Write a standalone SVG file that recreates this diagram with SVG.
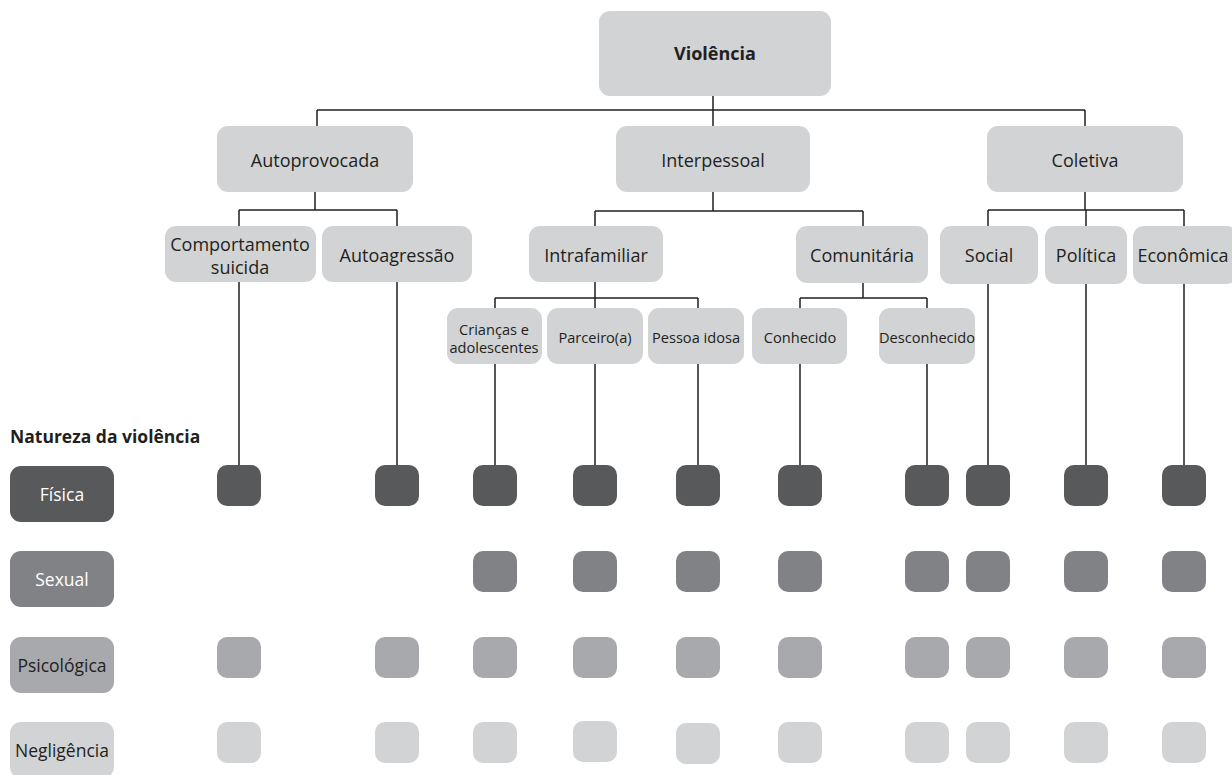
<svg xmlns="http://www.w3.org/2000/svg" width="1232" height="775" viewBox="0 0 1232 775">
<style>
.n{fill:#d1d3d4}
.t{font-family:"Open Sans","Noto Sans",sans-serif;fill:#231f20;text-anchor:middle;dominant-baseline:central}
.l1{font-size:18px}
.l2{font-size:18px}
.l3{font-size:14.6px}
.lg{font-size:17.5px}
.c{fill:none;stroke:#231f20;stroke-width:1.5}
.f{fill:#58595b}.s{fill:#808285}.p{fill:#a7a9ac}.g{fill:#d1d3d4}
</style>
<rect width="1232" height="775" fill="#fff"/>
<g id="connectors" class="c">
<path d="M713 96V110M317 110H1085M317 110V126M713 110V126M1085 110V126"/>
<path d="M315 192V210M239 210H397M239 210V226M397 210V226"/>
<path d="M713 192V211M595 211H863M595 211V226M863 211V226"/>
<path d="M1085 192V210M988 210H1184M988 210V226M1086 210V226M1184 210V226"/>
<path d="M595 282V298M495 298H698M495 298V308M595 298V308M698 298V308"/>
<path d="M863 283V298M800 298H927M800 298V308M927 298V308"/>
<path d="M239 282V465M397 282V465M495 364V465M595 364V465M698 364V465M800 364V465M927 364V465M988 284V465M1086 284V465M1184 284V465"/>
</g>
<g id="violencia"><rect class="n" x="599" y="11" width="232" height="85" rx="11"/><text class="t" x="715" y="53" font-size="18" font-weight="bold">Violência</text></g>
<g id="autoprovocada"><rect class="n" x="217" y="126" width="196" height="66" rx="11"/><text class="t l1" x="315" y="160">Autoprovocada</text></g>
<g id="interpessoal"><rect class="n" x="616" y="126" width="194" height="66" rx="11"/><text class="t l1" x="713" y="160">Interpessoal</text></g>
<g id="coletiva"><rect class="n" x="987" y="126" width="196" height="66" rx="11"/><text class="t l1" x="1085" y="160">Coletiva</text></g>
<g id="comportamento"><rect class="n" x="165" y="226" width="151" height="56" rx="11"/><text class="t l2" x="240" y="244">Comportamento</text><text class="t l2" x="240" y="267">suicida</text></g>
<g id="autoagressao"><rect class="n" x="322" y="226" width="150" height="56" rx="11"/><text class="t l2" x="397" y="255">Autoagressão</text></g>
<g id="intrafamiliar"><rect class="n" x="529" y="226" width="134" height="56" rx="11"/><text class="t l2" x="596" y="255">Intrafamiliar</text></g>
<g id="comunitaria"><rect class="n" x="796" y="226" width="132" height="57" rx="11"/><text class="t l2" x="862" y="255">Comunitária</text></g>
<g id="social"><rect class="n" x="940" y="226" width="98" height="58" rx="11"/><text class="t l2" x="989" y="255">Social</text></g>
<g id="politica"><rect class="n" x="1045" y="226" width="82" height="58" rx="11"/><text class="t l2" x="1086" y="255">Política</text></g>
<g id="economica"><rect class="n" x="1133" y="226" width="105" height="58" rx="11"/><text class="t l2" x="1183" y="255">Econômica</text></g>
<g id="criancas"><rect class="n" x="447" y="308" width="95" height="56" rx="11"/><text class="t l3" x="494" y="329">Crianças e</text><text class="t l3" x="494" y="347">adolescentes</text></g>
<g id="parceiro"><rect class="n" x="547" y="308" width="96" height="56" rx="11"/><text class="t l3" x="595" y="337">Parceiro(a)</text></g>
<g id="pessoa-idosa"><rect class="n" x="648" y="308" width="96" height="56" rx="11"/><text class="t l3" x="696" y="337">Pessoa idosa</text></g>
<g id="conhecido"><rect class="n" x="752" y="308" width="95" height="56" rx="11"/><text class="t l3" x="800" y="337">Conhecido</text></g>
<g id="desconhecido"><rect class="n" x="879" y="308" width="96" height="56" rx="11"/><text class="t l3" x="927" y="337">Desconhecido</text></g>
<g id="legend-title"><text x="10" y="443" font-family="'Open Sans','Noto Sans',sans-serif" font-size="17.5" font-weight="bold" fill="#231f20">Natureza da violência</text></g>
<g id="leg-fisica"><rect class="f" x="10" y="466" width="104" height="56" rx="11"/><text class="t lg" x="62" y="494" style="fill:#fff">Física</text></g>
<g id="leg-sexual"><rect class="s" x="10" y="551" width="104" height="56" rx="11"/><text class="t lg" x="62" y="579" style="fill:#fff">Sexual</text></g>
<g id="leg-psicologica"><rect class="p" x="10" y="637" width="104" height="56" rx="11"/><text class="t lg" x="62" y="665">Psicológica</text></g>
<g id="leg-negligencia"><rect class="g" x="10" y="722" width="104" height="56" rx="11"/><text class="t lg" x="62" y="750">Negligência</text></g>
<g id="fisica-marks">
<rect class="f" x="217" y="465" width="44" height="41" rx="10"/><rect class="f" x="375" y="465" width="44" height="41" rx="10"/><rect class="f" x="473" y="465" width="44" height="41" rx="10"/><rect class="f" x="573" y="465" width="44" height="41" rx="10"/><rect class="f" x="676" y="465" width="44" height="41" rx="10"/><rect class="f" x="778" y="465" width="44" height="41" rx="10"/><rect class="f" x="905" y="465" width="44" height="41" rx="10"/><rect class="f" x="966" y="465" width="44" height="41" rx="10"/><rect class="f" x="1064" y="465" width="44" height="41" rx="10"/><rect class="f" x="1162" y="465" width="44" height="41" rx="10"/>
</g>
<g id="sexual-marks">
<rect class="s" x="473" y="551" width="44" height="41" rx="10"/><rect class="s" x="573" y="551" width="44" height="41" rx="10"/><rect class="s" x="676" y="551" width="44" height="41" rx="10"/><rect class="s" x="778" y="551" width="44" height="41" rx="10"/><rect class="s" x="905" y="551" width="44" height="41" rx="10"/><rect class="s" x="966" y="551" width="44" height="41" rx="10"/><rect class="s" x="1064" y="551" width="44" height="41" rx="10"/><rect class="s" x="1162" y="551" width="44" height="41" rx="10"/>
</g>
<g id="psicologica-marks">
<rect class="p" x="217" y="637" width="44" height="41" rx="10"/><rect class="p" x="375" y="637" width="44" height="41" rx="10"/><rect class="p" x="473" y="637" width="44" height="41" rx="10"/><rect class="p" x="573" y="637" width="44" height="41" rx="10"/><rect class="p" x="676" y="637" width="44" height="41" rx="10"/><rect class="p" x="778" y="637" width="44" height="41" rx="10"/><rect class="p" x="905" y="637" width="44" height="41" rx="10"/><rect class="p" x="966" y="637" width="44" height="41" rx="10"/><rect class="p" x="1064" y="637" width="44" height="41" rx="10"/><rect class="p" x="1162" y="637" width="44" height="41" rx="10"/>
</g>
<g id="negligencia-marks">
<rect class="g" x="217" y="722" width="44" height="41" rx="10"/><rect class="g" x="375" y="722" width="44" height="41" rx="10"/><rect class="g" x="473" y="722" width="44" height="41" rx="10"/><rect class="g" x="573" y="721" width="44" height="41" rx="10"/><rect class="g" x="676" y="723" width="44" height="41" rx="10"/><rect class="g" x="778" y="722" width="44" height="41" rx="10"/><rect class="g" x="905" y="722" width="44" height="41" rx="10"/><rect class="g" x="966" y="722" width="44" height="41" rx="10"/><rect class="g" x="1064" y="722" width="44" height="41" rx="10"/><rect class="g" x="1162" y="722" width="44" height="41" rx="10"/>
</g>
</svg>
